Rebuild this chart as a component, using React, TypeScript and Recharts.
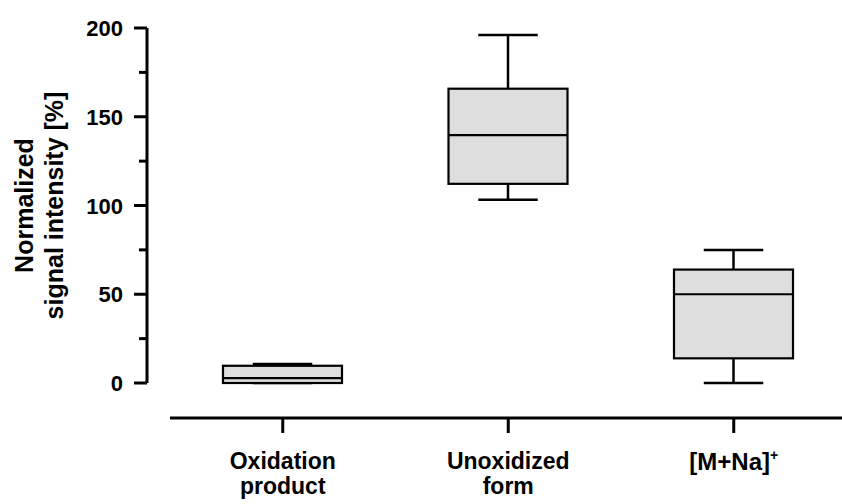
import React from "react";
import { BarChart, Bar, XAxis, YAxis } from "recharts";

const categories = ["Oxidation product", "Unoxidized form", "[M+Na]+"];
const labelLines = [["Oxidation", "product"], ["Unoxidized", "form"], ["[M+Na]", "+"]];
const mins = [0, 103.2, 0];
const q1s = [0, 112.2, 13.9];
const medians = [2.8, 139.7, 50];
const q3s = [9.7, 165.8, 63.9];
const maxs = [10.7, 196.1, 74.9];
const yTicks = [0, 25, 50, 75, 100, 125, 150, 175, 200];

const data = categories.map((name, i) => ({
  name,
  lines: labelLines[i],
  min: mins[i],
  q1: q1s[i],
  median: medians[i],
  q3: q3s[i],
  max: maxs[i],
}));

const font = "'Liberation Sans', Arial, sans-serif";

const BoxShape = (props: any) => {
  const { x, y, width, height, payload } = props;
  const top = Math.min(y, y + height);
  const bottom = Math.max(y, y + height);
  const span = payload.max - payload.min;
  const toY = (v: number) => top + ((bottom - top) * (payload.max - v)) / span;
  const cx = x + width / 2;
  const cap = width / 4;
  return (
    <g>
      <line x1={cx} x2={cx} y1={toY(payload.max)} y2={toY(payload.q3)} stroke="#000" strokeWidth={2.5} />
      <line x1={cx} x2={cx} y1={toY(payload.q1)} y2={toY(payload.min)} stroke="#000" strokeWidth={2.5} />
      <line x1={cx - cap} x2={cx + cap} y1={toY(payload.max)} y2={toY(payload.max)} stroke="#000" strokeWidth={2.5} />
      <line x1={cx - cap} x2={cx + cap} y1={toY(payload.min)} y2={toY(payload.min)} stroke="#000" strokeWidth={2.5} />
      <rect
        x={x}
        y={toY(payload.q3)}
        width={width}
        height={toY(payload.q1) - toY(payload.q3)}
        fill="#dedede"
        stroke="#000"
        strokeWidth={2.2}
      />
      <line x1={x} x2={x + width} y1={toY(payload.median)} y2={toY(payload.median)} stroke="#000" strokeWidth={2.2} />
    </g>
  );
};

const YTick = (props: any) => {
  const { x, y, payload } = props;
  const major = payload.value % 50 === 0;
  // label sits tickSize + tickMargin left of the axis line
  const axisX = x + 24;
  return (
    <g>
      <line x1={axisX - (major ? 13 : 8)} x2={axisX} y1={y} y2={y} stroke="#000" strokeWidth={3} />
      {major && (
        <text x={x} y={y} dy={8} textAnchor="end" fontFamily={font} fontWeight="bold" fontSize={22} fill="#000">
          {payload.value}
        </text>
      )}
    </g>
  );
};

const XTick = (props: any) => {
  const { x, y, index } = props;
  const lines = labelLines[index];
  if (lines[1] === "+") {
    return (
      <text x={x} y={y + 29} textAnchor="middle" fontFamily={font} fontWeight="bold" fontSize={24} fill="#000">
        {lines[0]}
        <tspan fontSize={14} dy={-10}>
          {lines[1]}
        </tspan>
      </text>
    );
  }
  return (
    <text x={x} y={y + 28} textAnchor="middle" fontFamily={font} fontWeight="bold" fontSize={23} fill="#000">
      <tspan x={x}>{lines[0]}</tspan>
      <tspan x={x} dy={25}>
        {lines[1]}
      </tspan>
    </text>
  );
};

const YLabel = (props: any) => {
  const { viewBox } = props;
  const bx = viewBox.x + 33;
  const cy = viewBox.y + viewBox.height / 2;
  return (
    <text
      x={bx}
      y={cy}
      transform={`rotate(-90 ${bx} ${cy})`}
      textAnchor="middle"
      fontFamily={font}
      fontWeight="bold"
      fontSize={25}
      fill="#000"
    >
      <tspan x={bx}>Normalized</tspan>
      <tspan x={bx} dy={30}>
        signal intensity [%]
      </tspan>
    </text>
  );
};

export default function App() {
  return (
    <div style={{ position: "absolute", left: 0, top: 0, width: 842, height: 504, background: "#fff" }}>
      <BarChart width={842} height={504} data={data} margin={{ top: 28, right: -4.5, bottom: 0, left: 0 }}>
        <XAxis xAxisId="gap" dataKey="name" height={35} axisLine={false} tickLine={false} tick={false} />
        <XAxis
          xAxisId="main"
          dataKey="name"
          height={86}
          axisLine={{ stroke: "#000", strokeWidth: 3 }}
          tickLine={{ stroke: "#000", strokeWidth: 3 }}
          tickSize={15}
          tickMargin={8}
          tick={<XTick />}
          interval={0}
        />
        <YAxis yAxisId="gap" width={23} axisLine={false} tickLine={false} tick={false} />
        <YAxis
          yAxisId="main"
          width={147}
          domain={[0, 200]}
          ticks={yTicks}
          interval={0}
          axisLine={{ stroke: "#000", strokeWidth: 3 }}
          tickLine={false}
          tickSize={13}
          tickMargin={11}
          tick={<YTick />}
          label={{ content: <YLabel /> }}
        />
        <Bar
          xAxisId="main"
          yAxisId="main"
          dataKey={(d: any) => [d.min, d.max]}
          barSize={119}
          shape={<BoxShape />}
          isAnimationActive={false}
        />
      </BarChart>
    </div>
  );
}
